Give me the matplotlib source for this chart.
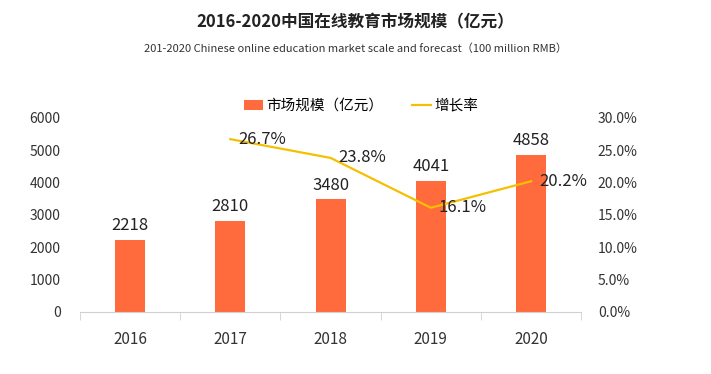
import matplotlib.pyplot as plt
from matplotlib.ticker import FuncFormatter

plt.rcParams['font.family'] = ['Noto Sans CJK SC', 'DejaVu Sans']

# ----- data -----
years = ['2016', '2017', '2018', '2019', '2020']
market = [2218, 2810, 3480, 4041, 4858]
growth_years = ['2017', '2018', '2019', '2020']
growth = [26.7, 23.8, 16.1, 20.2]

bar_color = '#FF6B3D'
line_color = '#F5C000'
text_color = '#333333'

fig = plt.figure(figsize=(7.11, 3.74), dpi=100)
ax = fig.add_axes([0.1125, 0.166, 0.705, 0.519])
ax2 = ax.twinx()

x = list(range(len(years)))
bars = ax.bar(x, market, width=0.3, color=bar_color, label='市场规模（亿元）', zorder=2)
for xi, v in zip(x, market):
    ax.text(xi, v + 180, str(v), ha='center', va='bottom', fontsize=12, color='#222222')

gx = [years.index(y) for y in growth_years]
line, = ax2.plot(gx, growth, color=line_color, lw=1.6, label='增长率', zorder=3)
for xi, v in zip(gx, growth):
    ax2.text(xi + 0.08, v, f'{v:.1f}%', ha='left', va='center', fontsize=12, color='#222222')

ax.set_xlim(-0.5, 4.5)
ax.set_ylim(0, 6000)
ax2.set_ylim(0, 30)
ax.set_yticks(range(0, 6001, 1000))
ax2.set_yticks(range(0, 31, 5))
ax2.yaxis.set_major_formatter(FuncFormatter(lambda v, p: f'{v:.1f}%'))

ax.set_xticks(x)
ax.set_xticklabels(years)
ax.set_xticks([i - 0.5 for i in range(len(years) + 1)], minor=True)
ax.tick_params(axis='x', which='major', length=0, pad=14, labelsize=11, labelcolor=text_color)
ax.tick_params(axis='x', which='minor', length=6, color='#d0d0d0', direction='out')
ax.tick_params(axis='y', length=0, pad=14, labelsize=10, labelcolor=text_color)
ax2.tick_params(axis='y', length=0, pad=12, labelsize=10, labelcolor=text_color)

for a in (ax, ax2):
    for s in ('top', 'left', 'right', 'bottom'):
        a.spines[s].set_visible(False)
ax.spines['bottom'].set_visible(True)
ax.spines['bottom'].set_color('#d0d0d0')

fig.legend([bars, line], ['市场规模（亿元）', '增长率'], loc='center', ncol=2,
           bbox_to_anchor=(0.508, 0.717), frameon=False, fontsize=10.5,
           handlelength=1.3, handletextpad=0.2, columnspacing=2.0)

fig.text(0.5, 0.94, '2016-2020中国在线教育市场规模（亿元）', ha='center', va='center',
         fontsize=12, fontweight='bold', color='#222222')
fig.text(0.5, 0.87, '201-2020 Chinese online education market scale and forecast（100 million RMB）',
         ha='center', va='center', fontsize=8, color='#333333')

fig.savefig('out.png', dpi=100)
